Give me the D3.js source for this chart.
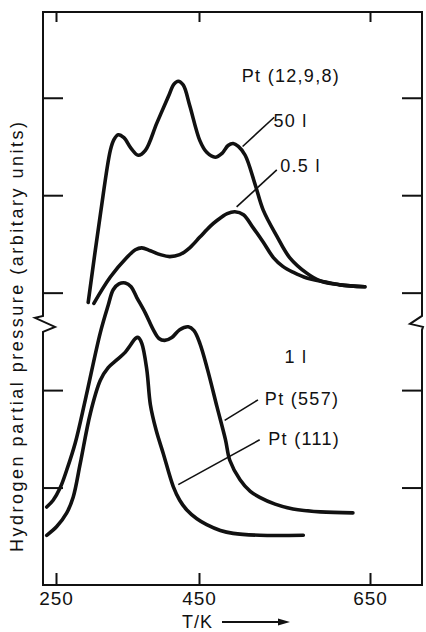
<!DOCTYPE html>
<html>
<head>
<meta charset="utf-8">
<script src="https://cdn.jsdelivr.net/npm/d3@7"></script>
<style>
  body { margin: 0; background: #fff; }
  text { font-family: "Liberation Sans", Arial, sans-serif; fill: #111; }
</style>
</head>
<body>
<div id="chart"></div>
<script>
// tick values
var tempTicks = [250, 450, 650]
var pressTicks = [1, 2, 3, 4, 5]

// Pt(12,9,8), 50 l
var t50 = [295, 312, 326, 331, 337, 345, 355, 365, 375, 391, 407, 415, 421, 428, 437, 451, 459, 469, 477, 484, 490, 496, 504, 516, 525, 541, 556, 576, 592, 615, 644]
var p50 = [2.90, 3.80, 4.46, 4.57, 4.62, 4.59, 4.48, 4.41, 4.46, 4.74, 5.01, 5.14, 5.17, 5.13, 4.92, 4.56, 4.44, 4.39, 4.43, 4.51, 4.53, 4.50, 4.41, 4.10, 3.85, 3.58, 3.36, 3.20, 3.12, 3.08, 3.06]

// Pt(12,9,8), 0.5 l
var t05 = [303, 326, 349, 361, 370, 382, 396, 409, 423, 437, 451, 463, 471, 483, 492, 502, 513, 525, 537, 548, 560, 576, 592, 615, 644]
var p05 = [2.89, 3.16, 3.36, 3.44, 3.46, 3.43, 3.39, 3.37, 3.39, 3.46, 3.57, 3.68, 3.74, 3.81, 3.83, 3.80, 3.67, 3.52, 3.36, 3.27, 3.21, 3.15, 3.12, 3.08, 3.06]

// Pt(557), 1 l
var t557 = [237, 246, 256, 265, 277, 291, 312, 323, 330, 338, 347, 355, 363, 375, 386, 394, 402, 412, 423, 435, 443, 451, 460, 471, 481, 486, 498, 510, 521, 539, 560, 592, 630]
var p557 = [0.80, 0.87, 1.00, 1.18, 1.46, 1.90, 2.59, 2.87, 3.03, 3.09, 3.10, 3.06, 2.95, 2.79, 2.62, 2.53, 2.51, 2.54, 2.62, 2.65, 2.61, 2.48, 2.21, 1.83, 1.49, 1.28, 1.08, 0.96, 0.90, 0.83, 0.78, 0.75, 0.74]

// Pt(111), 1 l
var t111 = [237, 251, 265, 274, 284, 298, 312, 323, 335, 347, 354, 361, 365, 370, 377, 382, 390, 400, 414, 423, 433, 447, 459, 475, 490, 521, 572]
var p111 = [0.51, 0.60, 0.74, 0.90, 1.25, 1.76, 2.10, 2.23, 2.31, 2.39, 2.46, 2.53, 2.54, 2.48, 2.21, 1.85, 1.59, 1.35, 1.01, 0.87, 0.77, 0.68, 0.62, 0.56, 0.53, 0.51, 0.51]

var labels = [
  { text: "Pt (12,9,8)", t: 500, p: 5.16 },
  { text: "50 l", t: 537, p: 4.70 },
  { text: "0.5 l", t: 545, p: 4.24 },
  { text: "1 l", t: 550, p: 2.28 },
  { text: "Pt (557)", t: 527, p: 1.85 },
  { text: "Pt (111)", t: 531, p: 1.44 }
]

var leaders = [
  { t1: 501, p1: 4.50, t2: 538, p2: 4.80 },
  { t1: 494, p1: 3.88, t2: 541, p2: 4.26 },
  { t1: 480, p1: 1.69, t2: 519, p2: 1.90 },
  { t1: 421, p1: 1.03, t2: 521, p2: 1.49 }
]

var width = 426, height = 632
var frame = { left: 43, right: 422, top: 12, bottom: 585 }

var svg = d3.select("#chart").append("svg")
    .attr("width", width)
    .attr("height", height)

// the printed temperature axis is not evenly spaced, so use a polylinear scale
var x = d3.scaleLinear()
    .domain(tempTicks)
    .range([56, 199, 370])

var y = d3.scaleLinear()
    .domain([0, 5.88])
    .range([frame.bottom, frame.top])

var line = d3.line()
    .x(function(d) { return x(d[0]) })
    .y(function(d) { return y(d[1]) })
    .curve(d3.curveCatmullRom.alpha(0.5))

// frame with the break marks on both sides
var yb = y(2.7)
var framePath = d3.path()
framePath.moveTo(frame.left, frame.top)
framePath.lineTo(frame.right, frame.top)
framePath.lineTo(frame.right, yb - 6)
framePath.lineTo(frame.right - 12, yb + 2)
framePath.lineTo(frame.right + 1, yb + 5)
framePath.lineTo(frame.right, yb + 8)
framePath.lineTo(frame.right, frame.bottom)
framePath.lineTo(frame.left, frame.bottom)
framePath.lineTo(frame.left, yb + 10)
framePath.lineTo(frame.left + 12, yb + 5)
framePath.lineTo(frame.left - 8, yb - 4)
framePath.lineTo(frame.left, yb - 6)
framePath.closePath()

svg.append("path")
    .attr("d", framePath.toString())
    .attr("fill", "none")
    .attr("stroke", "#111")
    .attr("stroke-width", 2)
    .attr("stroke-linejoin", "miter")

function styleAxis(g) {
  g.select(".domain").remove()
  g.selectAll(".tick line").attr("stroke", "#111").attr("stroke-width", 2)
}

svg.append("g")
    .attr("transform", "translate(0," + frame.bottom + ")")
    .call(d3.axisBottom(x).tickValues(tempTicks).tickSize(-12).tickPadding(7))
    .call(styleAxis)
    .selectAll("text")
    .attr("font-size", 19)
    .attr("letter-spacing", 1)
    .attr("fill", "#111")
    .style("font-family", "'Liberation Sans', Arial, sans-serif")

svg.append("g")
    .attr("transform", "translate(0," + frame.top + ")")
    .call(d3.axisTop(x).tickValues(tempTicks).tickSize(-10).tickFormat(""))
    .call(styleAxis)

svg.append("g")
    .attr("transform", "translate(" + frame.left + ",0)")
    .call(d3.axisLeft(y).tickValues(pressTicks).tickSize(-20).tickFormat(""))
    .call(styleAxis)

svg.append("g")
    .attr("transform", "translate(" + frame.right + ",0)")
    .call(d3.axisRight(y).tickValues(pressTicks).tickSize(-20).tickFormat(""))
    .call(styleAxis)

// curves
var series = [
  d3.zip(t50, p50),
  d3.zip(t05, p05),
  d3.zip(t557, p557),
  d3.zip(t111, p111)
]

svg.selectAll(".tpd-line")
    .data(series)
    .enter().append("path")
    .attr("class", "tpd-line")
    .attr("d", line)
    .attr("fill", "none")
    .attr("stroke", "#111")
    .attr("stroke-width", 3.6)
    .attr("stroke-linecap", "round")
    .attr("stroke-linejoin", "round")

svg.selectAll(".leader")
    .data(leaders)
    .enter().append("line")
    .attr("class", "leader")
    .attr("x1", function(d) { return x(d.t1) })
    .attr("y1", function(d) { return y(d.p1) })
    .attr("x2", function(d) { return x(d.t2) })
    .attr("y2", function(d) { return y(d.p2) })
    .attr("stroke", "#111")
    .attr("stroke-width", 1.6)

svg.selectAll(".curve-label")
    .data(labels)
    .enter().append("text")
    .attr("class", "curve-label")
    .attr("x", function(d) { return x(d.t) })
    .attr("y", function(d) { return y(d.p) })
    .attr("font-size", 18)
    .attr("letter-spacing", 1.3)
    .text(function(d) { return d.text })

// axis titles
svg.append("text")
    .attr("transform", "translate(23," + 337 + ") rotate(-90)")
    .attr("text-anchor", "middle")
    .attr("font-size", 18)
    .attr("textLength", 430)
    .attr("lengthAdjust", "spacing")
    .text("Hydrogen partial pressure (arbitary units)")

svg.append("text")
    .attr("x", 182)
    .attr("y", 628)
    .attr("font-size", 18)
    .attr("letter-spacing", 1)
    .text("T/K")

svg.append("line")
    .attr("x1", 222).attr("y1", 622)
    .attr("x2", 280).attr("y2", 622)
    .attr("stroke", "#111")
    .attr("stroke-width", 2)

svg.append("path")
    .attr("d", "M278,618.5 L290,622 L278,625.5 Z")
    .attr("fill", "#111")
</script>
</body>
</html>
